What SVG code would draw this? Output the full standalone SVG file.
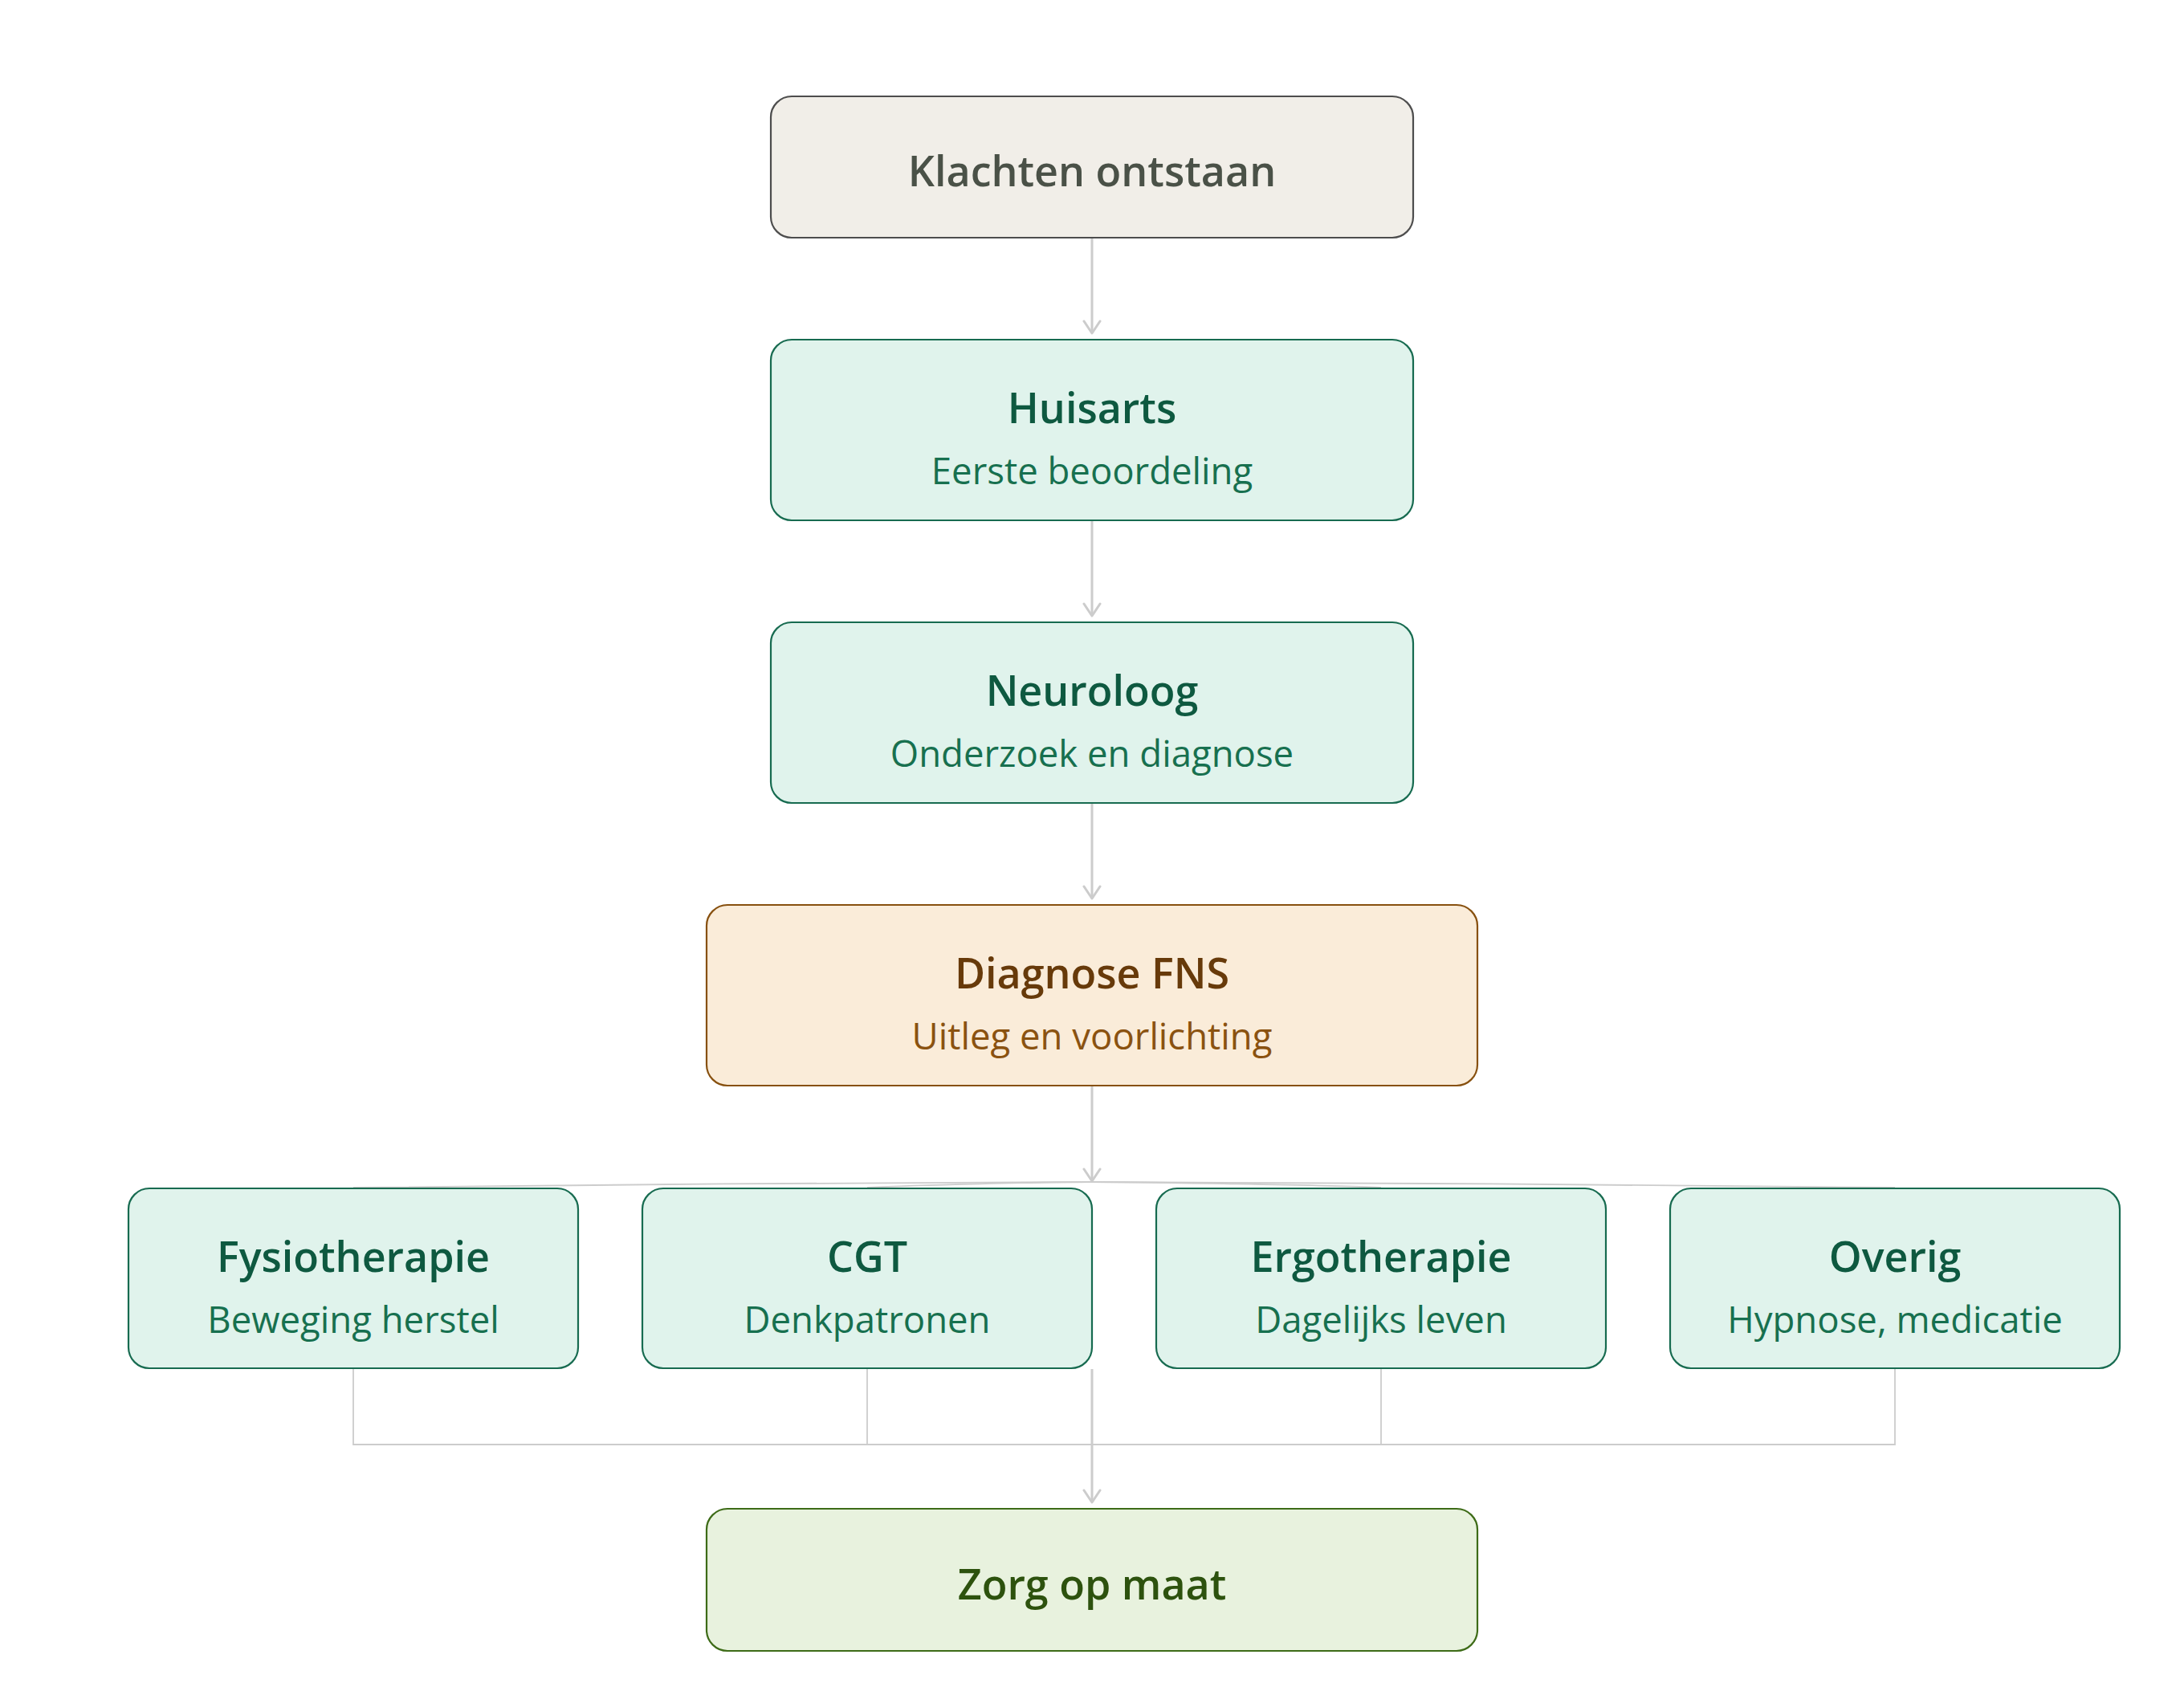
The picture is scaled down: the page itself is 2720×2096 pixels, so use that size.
<svg xmlns="http://www.w3.org/2000/svg" width="2720" height="2096" viewBox="0 0 2720 2096">
  <defs>
    <marker id="arrow" markerUnits="userSpaceOnUse" markerWidth="30" markerHeight="30" refX="17" refY="15" orient="auto" viewBox="0 0 30 30">
      <path d="M2 5 L17 15 L2 25" fill="none" stroke="#cccccc" stroke-width="3" stroke-linecap="round" stroke-linejoin="round"/>
    </marker>
    <style>
      .box rect { stroke-width: 2.2; }
      .neutral rect { fill: #f1eee8; stroke: #4d4d4d; }
      .green rect { fill: #e0f3ec; stroke: #176b50; }
      .amber rect { fill: #faecd9; stroke: #87500f; }
      .final rect { fill: #e8f2de; stroke: #3d6b17; }
      text { font-family: "Segoe UI", "Open Sans", "Noto Sans", sans-serif; text-anchor: middle; }
      .title { font-size: 52px; font-weight: 600; }
      .sub { font-size: 45.5px; font-weight: 400; }
      .neutral .title { fill: #4a5147; }
      .green .title { fill: #0e5940; }
      .green .sub { fill: #17704f; }
      .amber .title { fill: #673a0a; }
      .amber .sub { fill: #8a5210; }
      .final .title { fill: #2d520e; }
      .conn { fill: none; stroke: #cccccc; stroke-width: 3; }
      .thin { fill: none; stroke: #cccccc; stroke-width: 1.8; }
    </style>
  </defs>
  <rect width="2720" height="2096" fill="#ffffff"/>

  <g id="connectors">
    <path class="conn" d="M1360 297 L1360 415" marker-end="url(#arrow)"/>
    <path class="conn" d="M1360 649 L1360 767" marker-end="url(#arrow)"/>
    <path class="conn" d="M1360 1001 L1360 1119" marker-end="url(#arrow)"/>
    <path class="conn" d="M1360 1353 L1360 1471" marker-end="url(#arrow)"/>
    <path class="thin" d="M1360 1472 C1200 1472 600 1476 440 1479"/>
    <path class="thin" d="M1360 1472 C1300 1472 1140 1476 1080 1479"/>
    <path class="thin" d="M1360 1472 C1420 1472 1660 1476 1720 1479"/>
    <path class="thin" d="M1360 1472 C1520 1472 2200 1476 2360 1479"/>
    <path class="thin" d="M440 1705 L440 1799 L2360 1799 L2360 1705"/>
    <path class="thin" d="M1080 1705 L1080 1799"/>
    <path class="thin" d="M1720 1705 L1720 1799"/>
    <path class="conn" d="M1360 1705 L1360 1871" marker-end="url(#arrow)"/>
  </g>

  <g id="klachten" class="box neutral">
    <rect x="960" y="120" width="800" height="176" rx="26"/>
    <text class="title" x="1360" y="232">Klachten ontstaan</text>
  </g>

  <g id="huisarts" class="box green">
    <rect x="960" y="423" width="800" height="225" rx="26"/>
    <text class="title" x="1360" y="527">Huisarts</text>
    <text class="sub" x="1360" y="603">Eerste beoordeling</text>
  </g>

  <g id="neuroloog" class="box green">
    <rect x="960" y="775" width="800" height="225" rx="26"/>
    <text class="title" x="1360" y="879">Neuroloog</text>
    <text class="sub" x="1360" y="955">Onderzoek en diagnose</text>
  </g>

  <g id="diagnose" class="box amber">
    <rect x="880" y="1127" width="960" height="225" rx="26"/>
    <text class="title" x="1360" y="1231">Diagnose FNS</text>
    <text class="sub" x="1360" y="1307">Uitleg en voorlichting</text>
  </g>

  <g id="fysiotherapie" class="box green">
    <rect x="160" y="1480" width="560" height="224" rx="26"/>
    <text class="title" x="440" y="1584">Fysiotherapie</text>
    <text class="sub" x="440" y="1660">Beweging herstel</text>
  </g>

  <g id="cgt" class="box green">
    <rect x="800" y="1480" width="560" height="224" rx="26"/>
    <text class="title" x="1080" y="1584">CGT</text>
    <text class="sub" x="1080" y="1660">Denkpatronen</text>
  </g>

  <g id="ergotherapie" class="box green">
    <rect x="1440" y="1480" width="560" height="224" rx="26"/>
    <text class="title" x="1720" y="1584">Ergotherapie</text>
    <text class="sub" x="1720" y="1660">Dagelijks leven</text>
  </g>

  <g id="overig" class="box green">
    <rect x="2080" y="1480" width="560" height="224" rx="26"/>
    <text class="title" x="2360" y="1584">Overig</text>
    <text class="sub" x="2360" y="1660">Hypnose, medicatie</text>
  </g>

  <g id="zorg" class="box final">
    <rect x="880" y="1879" width="960" height="177" rx="26"/>
    <text class="title" x="1360" y="1992">Zorg op maat</text>
  </g>
</svg>
